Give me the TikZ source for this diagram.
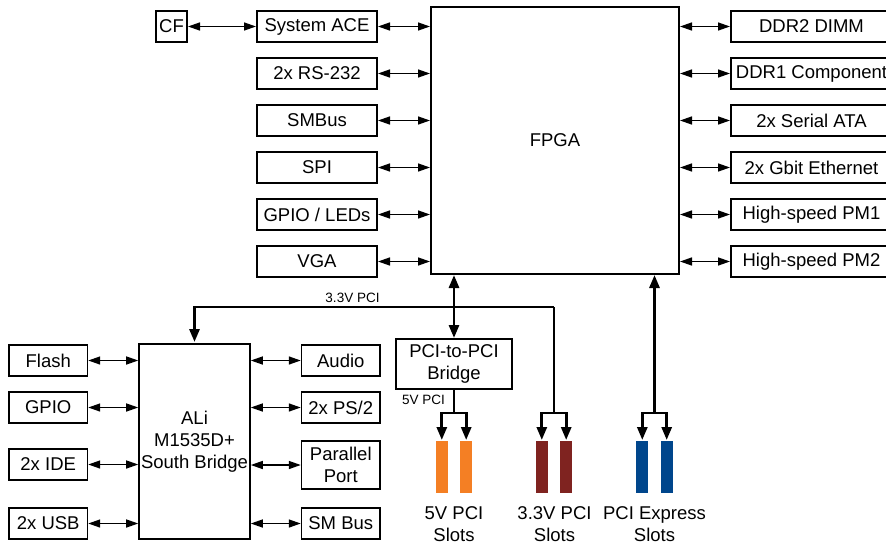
\documentclass[tikz,border=0pt]{standalone}
\usepackage{fontspec}
\setmainfont{Liberation Sans}
\usetikzlibrary{arrows.meta, positioning}

\definecolor{slotorange}{RGB}{244,127,36}
\definecolor{slotred}{RGB}{127,35,32}
\definecolor{slotblue}{RGB}{0,70,140}

\begin{document}
\begin{tikzpicture}[
        x=1pt, y=-1pt,
        node distance=14pt and 50pt,
        font=\fontsize{18.5}{22}\selectfont,
        block/.style={rectangle, draw=black, line width=1.6pt, minimum height=31.4pt, inner sep=2pt, align=center},
        port/.style={block, minimum width=120.4pt},
        wport/.style={block, minimum width=161.4pt},
        sport/.style={block, minimum width=78.4pt},
        slot/.style={rectangle, draw=none, inner sep=0pt, minimum width=12pt, minimum height=52pt},
        caption/.style={align=center, inner sep=0pt},
        tag/.style={font=\fontsize{13.5}{16}\selectfont, inner sep=0pt},
        link/.style={{Triangle[length=12pt,width=8pt]}-{Triangle[length=12pt,width=8pt]}, line width=1.4pt},
        bus/.style={line width=2.8pt},
        busarrow/.style={bus, -{Triangle[length=13pt,width=10pt]}, shorten >=1pt},
        busboth/.style={bus, {Triangle[length=13pt,width=10pt]}-{Triangle[length=13pt,width=10pt]}}
    ]
    \useasboundingbox (0,0) rectangle (886,544);

    % FPGA and its left side
    \node (fpga) [block, minimum width=248.4pt, minimum height=267.4pt] at (555,140.5) {FPGA};

    \node (ace) [port] at (317,26.5) {System ACE};
    \node (rs) [port, below=of ace] {2x RS-232};
    \node (smb) [port, below=of rs] {SMBus};
    \node (spi) [port, below=of smb] {SPI};
    \node (leds) [port, below=of spi] {GPIO / LEDs};
    \node (vga) [port, below=of leds] {VGA};
    \node (cf) [block, minimum width=31.4pt, left=68pt of ace] {CF};

    % right side
    \node (ddr2) [wport] at (811.5,26.5) {DDR2 DIMM};
    \node (ddr1) [wport, below=of ddr2] {DDR1 Component};
    \node (sata) [wport, below=of ddr1] {2x Serial ATA};
    \node (eth) [wport, below=of sata] {2x Gbit Ethernet};
    \node (pm1) [wport, below=of eth] {High-speed PM1};
    \node (pm2) [wport, below=of pm1] {High-speed PM2};

    \draw [link] (cf) -- (ace);
    \draw [link] (ace) -- (ace -| fpga.west);
    \draw [link] (rs) -- (rs -| fpga.west);
    \draw [link] (smb) -- (smb -| fpga.west);
    \draw [link] (spi) -- (spi -| fpga.west);
    \draw [link] (leds) -- (leds -| fpga.west);
    \draw [link] (vga) -- (vga -| fpga.west);

    \draw [link] (ddr2 -| fpga.east) -- (ddr2);
    \draw [link] (ddr1 -| fpga.east) -- (ddr1);
    \draw [link] (sata -| fpga.east) -- (sata);
    \draw [link] (eth -| fpga.east) -- (eth);
    \draw [link] (pm1 -| fpga.east) -- (pm1);
    \draw [link] (pm2 -| fpga.east) -- (pm2);

    % south bridge
    \node (sb) [block, minimum width=109.4pt, minimum height=195.4pt] at (194.5,441.5) {ALi\\M1535D+\\South Bridge};

    \node (flash) [sport, below left=1pt and 50pt of sb.north west] {Flash};
    \node (gpio) [sport, below=of flash] {GPIO};
    \node (ide) [sport, below=24pt of gpio] {2x IDE};
    \node (usb) [sport, above left=0pt and 50pt of sb.south west] {2x USB};
    \node (audio) [sport, below right=1pt and 50pt of sb.north east] {Audio};
    \node (ps2) [sport, below=of audio] {2x PS/2};
    \node (par) [sport, minimum height=48.4pt, below=16pt of ps2] {Parallel\\Port};
    \node (smbus) [sport, above right=0pt and 50pt of sb.south east] {SM Bus};

    \draw [link] (flash) -- (flash -| sb.west);
    \draw [link] (gpio) -- (gpio -| sb.west);
    \draw [link] (ide) -- (ide -| sb.west);
    \draw [link] (usb) -- (usb -| sb.west);
    \draw [link] (audio -| sb.east) -- (audio);
    \draw [link] (ps2 -| sb.east) -- (ps2);
    \draw [link] (par -| sb.east) -- (par);
    \draw [link] (smbus -| sb.east) -- (smbus);

    % PCI buses
    \node (p2p) [block, minimum width=116.4pt, minimum height=50.4pt] at (454,364) {PCI-to-PCI\\Bridge};

    \coordinate (b33) at (554,307);
    \coordinate (v33) at (554,413);
    \coordinate (v5) at (454,413);
    \coordinate (vex) at (654.5,413);

    \draw [busboth] (p2p.north |- fpga.south) -- (p2p);
    \draw [busarrow] (b33) -| (sb.north);
    \draw [bus] (b33) -- (v33);
    \draw [bus] (p2p) -- (v5);
    \draw [bus, {Triangle[length=13pt,width=10pt]}-] (vex |- fpga.south) -- (vex);

    \node (tag33) [tag] at (352.5,298) {3.3V PCI};
    \node (tag5) [tag] at (423.5,400) {5V PCI};

    % slots
    \node (s5a) [slot, fill=slotorange, below left=28pt and 6pt of v5] {};
    \node (s5b) [slot, fill=slotorange, below right=28pt and 6pt of v5] {};
    \node (s33a) [slot, fill=slotred, below left=28pt and 6pt of v33] {};
    \node (s33b) [slot, fill=slotred, below right=28pt and 6pt of v33] {};
    \node (sexa) [slot, fill=slotblue, below left=28pt and 6pt of vex] {};
    \node (sexb) [slot, fill=slotblue, below right=28pt and 6pt of vex] {};

    \draw [busarrow] (v5) -| (s5a);
    \draw [busarrow] (v5) -| (s5b);
    \draw [busarrow] (v33) -| (s33a);
    \draw [busarrow] (v33) -| (s33b);
    \draw [busarrow] (vex) -| (sexa);
    \draw [busarrow] (vex) -| (sexb);

    \node (c5) [caption] at (454,524) {5V PCI\\Slots};
    \node (c33) [caption] at (554.5,524) {3.3V PCI\\Slots};
    \node (cex) [caption] at (654.5,524) {PCI Express\\Slots};

\end{tikzpicture}
\end{document}
